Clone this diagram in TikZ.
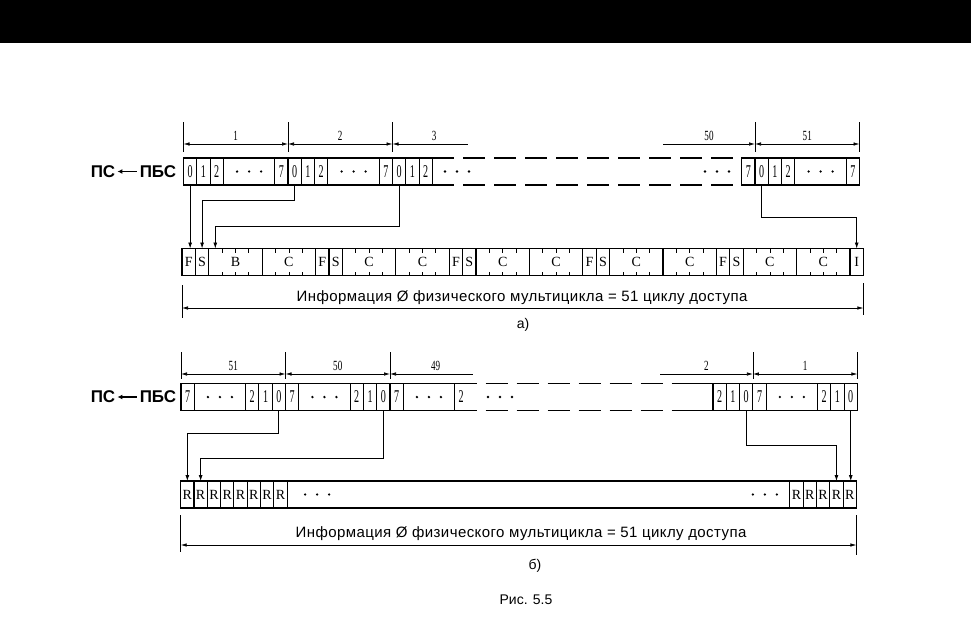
\documentclass[tikz,border=0pt]{standalone}
\usepackage{fontspec}
\setmainfont{Liberation Sans}
\newfontfamily\cellserif{Liberation Serif}
\usetikzlibrary{arrows.meta,calc}
\newcommand\dg[1]{\scalebox{0.56}[1]{\cellserif\fontsize{18}{18}\selectfont #1}}
\newcommand\lt[1]{{\cellserif\fontsize{14}{14}\selectfont #1}}
\newcommand\dimlab[1]{\scalebox{0.65}[1]{\cellserif\fontsize{14}{14}\selectfont #1}}
\newcommand\tdots[1]{\foreach \k in {-12,0,12}{\fill ($(#1)+(\k,0)$) circle (1.3pt);}}
\tikzset{
 box/.style={draw, line width=1.1pt, minimum height=27pt, inner sep=0pt, outer sep=0pt, anchor=west},
 dcell/.style={box, minimum width=13.3pt},
 wcell/.style={box, minimum width=51.3pt},
 conn/.style={line width=0.8pt, -{Latex[length=6pt,width=4pt]}},
 dimboth/.style={line width=0.7pt, {Latex[length=6pt,width=3.5pt]}-{Latex[length=6pt,width=3.5pt]}},
 dimleft/.style={line width=0.7pt, {Latex[length=6pt,width=3.5pt]}-},
 dimright/.style={line width=0.7pt, -{Latex[length=6pt,width=3.5pt]}},
 ext/.style={line width=0.7pt},
 gap/.style={line width=1.3pt, dash pattern=on 22pt off 9pt},
 solidgap/.style={line width=1.3pt},
 side/.style={font=\fontsize{17}{17}\selectfont\bfseries, inner sep=0pt},
 sidearrow/.style={line width=1.3pt, -{Latex[length=5pt,width=5pt]}},
 body/.style={font=\fontsize{14}{14}\selectfont, inner sep=0pt},
 wide/.style={font=\fontsize{15}{15}\selectfont\addfontfeature{LetterSpace=2.8}, inner sep=0pt},
 tick/.style={line width=0.8pt},
 dlab/.style={inner sep=0pt, above=3pt}
}
\newcommand\octA[2]{%
 \node[dcell] (#1c0) at (#2) {\dg{0}};
 \node[dcell] (#1c1) at (#1c0.east) {\dg{1}};
 \node[dcell] (#1c2) at (#1c1.east) {\dg{2}};
 \node[wcell] (#1d) at (#1c2.east) {};
 \node[dcell] (#1c7) at (#1d.east) {\dg{7}};
 \tdots{#1d.center}}
\newcommand\octB[2]{%
 \node[dcell] (#1c7) at (#2) {\dg{7}};
 \node[wcell] (#1d) at (#1c7.east) {};
 \node[dcell] (#1c2) at (#1d.east) {\dg{2}};
 \node[dcell] (#1c1) at (#1c2.east) {\dg{1}};
 \node[dcell] (#1c0) at (#1c1.east) {\dg{0}};
 \tdots{#1d.center}}
\begin{document}
\begin{tikzpicture}[x=1pt,y=-1pt]
\useasboundingbox (0,0) rectangle (971,616);
\fill[white] (0,0) rectangle (971,616);
\fill[black] (0,0) rectangle (971,43);

% ================= (a) =================
\octA{oa}{183.5,171.5}
\octA{ob}{oac7.east}
\node[dcell] (occ0) at (obc7.east) {\dg{0}};
\node[dcell] (occ1) at (occ0.east) {\dg{1}};
\node[dcell] (occ2) at (occ1.east) {\dg{2}};
\node[dcell] (oyc7) at (741.7,171.5) {\dg{7}};
\octA{oz}{oyc7.east}
\draw[gap] (occ2.north east) -- (oyc7.north west);
\draw[gap] (occ2.south east) -- (oyc7.south west);
\coordinate (ga1) at (457,171.5); \tdots{ga1}
\coordinate (ga2) at (717,171.5); \tdots{ga2}

\node[side] (psa) at (103,171.5) {ПС};
\node[side] (pbsa) at (158,171.5) {ПБС};
\draw[sidearrow, shorten >=2pt, shorten <=3pt] (pbsa.west) -- (psa.east);

% bottom row (a)
\node[box, minimum width=13.4pt] (b1) at (182,262) {\lt{F}};
\foreach \i/\t/\w [remember=\i as \p (initially 1)] in
 {2/S/13.4pt, 3/B/53.4pt, 4/C/53.4pt, 5/F/13.4pt, 6/S/13.4pt, 7/C/53.4pt, 8/C/53.4pt,
  9/F/13.4pt, 10/S/13.4pt, 11/C/53.4pt, 12/C/53.4pt, 13/F/13.4pt, 14/S/13.4pt, 15/C/53.4pt,
  16/C/53.4pt, 17/F/13.4pt, 18/S/13.4pt, 19/C/53.4pt, 20/C/53.4pt, 21/I/13.4pt}
 { \node[box, minimum width=\w] (b\i) at (b\p.east) {\lt{\t}}; }
\foreach \i in {3,4,7,8,11,12,15,16,19,20} {
  \foreach \f in {0.25,0.5,0.75} {
    \draw[tick] ($(b\i.north west)!\f!(b\i.north east)$) -- ++(0,4);
    \draw[tick] ($(b\i.south west)!\f!(b\i.south east)$) -- ++(0,-4);
  }
}

% connectors (a)
\draw[conn] (oac0.south) -- (oac0.south |- b1.north);
\coordinate (ka2) at (b2.north |- 0,200);
\draw[conn] (obc0.south) |- (ka2) -- (b2.north);
\coordinate (ka3) at ($(b3.north west)+(6.5,0)$);
\coordinate (ka3b) at (ka3 |- 0,226);
\draw[conn] (occ0.south) |- (ka3b) -- (ka3);
\coordinate (ka4) at (b21.north |- 0,217);
\draw[conn] (ozc0.south) |- (ka4) -- (b21.north);

% dimensions (a)
\coordinate (xa1) at (oac0.north west);
\coordinate (xa2) at (obc0.north west);
\coordinate (xa3) at (occ0.north west);
\coordinate (xa4) at (ozc0.north west);
\coordinate (xa5) at (ozc7.north east);
\foreach \c in {xa1,xa2,xa3,xa4,xa5} { \draw[ext] (\c |- 0,122) -- (\c |- 0,152); }
\draw[dimboth] (xa1 |- 0,144) -- (xa2 |- 0,144) node[midway, dlab] {\dimlab{1}};
\draw[dimboth] (xa2 |- 0,144) -- (xa3 |- 0,144) node[midway, dlab] {\dimlab{2}};
\coordinate (ea3) at (468,144);
\draw[dimleft] (xa3 |- 0,144) -- (ea3) node[pos=0.55, dlab] {\dimlab{3}};
\coordinate (ea50) at (663,144);
\draw[dimright] (ea50) -- (xa4 |- 0,144) node[midway, dlab] {\dimlab{50}};
\draw[dimboth] (xa4 |- 0,144) -- (xa5 |- 0,144) node[midway, dlab] {\dimlab{51}};

% total (a)
\draw[ext] (b1.south west |- 0,285) -- (b1.south west |- 0,318);
\draw[ext] (b21.south east |- 0,283) -- (b21.south east |- 0,315);
\draw[dimboth] (b1.south west |- 0,308) -- (b21.south east |- 0,308);
\node[wide] (ta) at (522,298) {Информация Ø физического мультицикла = 51 циклу доступа};
\node[body] (capa) at (523,325) {а)};

% ================= (b) =================
\octB{pa}{181,397}
\octB{pb}{pac0.east}
\node[dcell] (pcc7) at (pbc0.east) {\dg{7}};
\node[wcell] (pcd) at (pcc7.east) {};
\tdots{pcd.center}
\node[dcell, draw=none] (pcc2) at (pcd.east) {\dg{2}};
\node[dcell] (pyc2) at (713,397) {\dg{2}};
\node[dcell] (pyc1) at (pyc2.east) {\dg{1}};
\node[dcell] (pyc0) at (pyc1.east) {\dg{0}};
\octB{pz}{pyc0.east}
\coordinate (jt) at ($(pyc2.north west)+(-38,0)$);
\coordinate (jb) at ($(pyc2.south west)+(-38,0)$);
\draw[gap] (pcd.north east) -- (jt);
\draw[solidgap] (jt) -- (pyc2.north west);
\draw[gap] (pcd.south east) -- (jb);
\draw[solidgap] (jb) -- (pyc2.south west);
\coordinate (gb1) at (500,397); \tdots{gb1}

\node[side] (psb) at (103,397) {ПС};
\node[side] (pbsb) at (158,397) {ПБС};
\draw[sidearrow, shorten >=2pt, shorten <=3pt] (pbsb.west) -- (psb.east);

% bottom row (b)
\node[dcell] (rl1) at (180.7,494.5) {\lt{R}};
\foreach \i [remember=\i as \p (initially 1)] in {2,...,8}
 { \node[dcell] (rl\i) at (rl\p.east) {\lt{R}}; }
\node[box, minimum width=502.8pt] (rm) at (rl8.east) {};
\coordinate (gb2) at ($(rm.west)+(30,0)$); \tdots{gb2}
\coordinate (gb3) at ($(rm.east)+(-25,0)$); \tdots{gb3}
\node[dcell] (rr1) at (rm.east) {\lt{R}};
\foreach \i [remember=\i as \p (initially 1)] in {2,...,5}
 { \node[dcell] (rr\i) at (rr\p.east) {\lt{R}}; }

% connectors (b)
\coordinate (kb1) at (rl1.north |- 0,433);
\draw[conn] (pac0.south) |- (kb1) -- (rl1.north);
\coordinate (kb2) at (rl2.north |- 0,458);
\draw[conn] (pbc0.south) |- (kb2) -- (rl2.north);
\coordinate (kb3) at (rr4.north |- 0,445);
\draw[conn] (pyc0.south) |- (kb3) -- (rr4.north);
\draw[conn] (pzc0.south) -- (pzc0.south |- rr5.north);

% dimensions (b)
\coordinate (xb1) at (pac7.north west);
\coordinate (xb2) at (pbc7.north west);
\coordinate (xb3) at (pcc7.north west);
\coordinate (xb4) at (pzc7.north west);
\coordinate (xb5) at (pzc0.north east);
\foreach \c in {xb1,xb2,xb3,xb4,xb5} { \draw[ext] (\c |- 0,352) -- (\c |- 0,379); }
\draw[dimboth] (xb1 |- 0,374) -- (xb2 |- 0,374) node[midway, dlab] {\dimlab{51}};
\draw[dimboth] (xb2 |- 0,374) -- (xb3 |- 0,374) node[midway, dlab] {\dimlab{50}};
\coordinate (eb49) at (473,374);
\draw[dimleft] (xb3 |- 0,374) -- (eb49) node[pos=0.55, dlab] {\dimlab{49}};
\coordinate (eb2) at (660,374);
\draw[dimright] (eb2) -- (xb4 |- 0,374) node[midway, dlab] {\dimlab{2}};
\draw[dimboth] (xb4 |- 0,374) -- (xb5 |- 0,374) node[midway, dlab] {\dimlab{1}};

% total (b)
\draw[ext] (rl1.south west |- 0,515) -- (rl1.south west |- 0,552);
\draw[ext] (rr5.south east |- 0,515) -- (rr5.south east |- 0,555);
\draw[dimboth] (rl1.south west |- 0,545) -- (rr5.south east |- 0,545);
\node[wide] (tb) at (521,534) {Информация Ø физического мультицикла = 51 циклу доступа};
\node[body] (capb) at (535,566) {б)};
\node[body] (fig) at (526,600) {Рис. 5.5};
\end{tikzpicture}
\end{document}
